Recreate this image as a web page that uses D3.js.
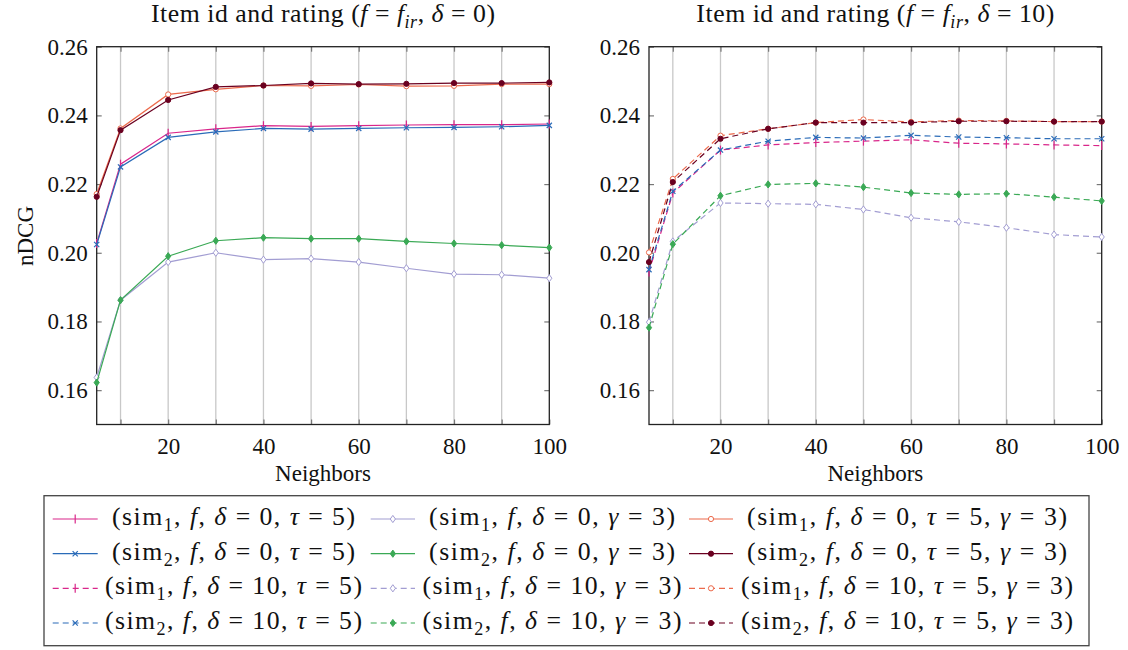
<!DOCTYPE html>
<html><head><meta charset="utf-8">
<script src="https://cdn.jsdelivr.net/npm/d3@7"></script>
<style>
body{margin:0;background:#fff}
text{fill:#111;white-space:pre}
</style>
</head><body>
<svg id="c" width="1128" height="650"></svg>
<script>
// ---------- data ----------
const neighbors = [5,10,20,30,40,50,60,70,80,90,100];
const xTickLabels = [20,40,60,80,100];
const xGrid = [10,20,30,40,50,60,70,80,90];
const yTicks = [0.16,0.18,0.20,0.22,0.24,0.26];

// delta = 0 (left panel)
const sim1_d0_tau5    = [0.2027,0.2258,0.2348,0.2361,0.2370,0.2368,0.2370,0.2372,0.2373,0.2373,0.2375];
const sim2_d0_tau5    = [0.2024,0.2250,0.2336,0.2352,0.2362,0.2360,0.2362,0.2364,0.2365,0.2367,0.2371];
const sim1_d0_g3      = [0.1637,0.1862,0.1973,0.2000,0.1980,0.1983,0.1973,0.1955,0.1938,0.1936,0.1926];
const sim2_d0_g3      = [0.1622,0.1862,0.1990,0.2035,0.2044,0.2041,0.2041,0.2033,0.2027,0.2022,0.2015];
const sim1_d0_tau5_g3 = [0.2171,0.2362,0.2461,0.2476,0.2487,0.2486,0.2490,0.2485,0.2486,0.2491,0.2491];
const sim2_d0_tau5_g3 = [0.2163,0.2357,0.2445,0.2483,0.2487,0.2493,0.2491,0.2492,0.2494,0.2494,0.2496];

// delta = 10 (right panel)
const sim1_d10_tau5    = [0.1944,0.2174,0.2299,0.2314,0.2321,0.2325,0.2329,0.2319,0.2317,0.2314,0.2312];
const sim2_d10_tau5    = [0.1951,0.2179,0.2299,0.2325,0.2336,0.2334,0.2342,0.2337,0.2335,0.2332,0.2332];
const sim1_d10_g3      = [0.1798,0.2033,0.2145,0.2143,0.2141,0.2126,0.2102,0.2090,0.2073,0.2053,0.2046];
const sim2_d10_g3      = [0.1782,0.2025,0.2166,0.2199,0.2202,0.2191,0.2174,0.2170,0.2172,0.2162,0.2151];
const sim1_d10_tau5_g3 = [0.2001,0.2215,0.2341,0.2361,0.2379,0.2388,0.2381,0.2385,0.2384,0.2382,0.2382];
const sim2_d10_tau5_g3 = [0.1973,0.2206,0.2332,0.2361,0.2379,0.2379,0.2379,0.2383,0.2383,0.2382,0.2382];

const leftSeries  = [sim1_d0_tau5, sim2_d0_tau5, sim1_d0_g3, sim2_d0_g3, sim1_d0_tau5_g3, sim2_d0_tau5_g3];
const rightSeries = [sim1_d10_tau5, sim2_d10_tau5, sim1_d10_g3, sim2_d10_g3, sim1_d10_tau5_g3, sim2_d10_tau5_g3];
const seriesSim   = [1,2,1,2,1,2];
const seriesTau   = [true,true,false,false,true,true];
const seriesGamma = [false,false,true,true,true,true];

// ---------- styles ----------
const colors  = ["#d9268a","#2a6bb8","#a29dd2","#3aa955","#ec6a4c","#6a0020"];
const markers = ["bar","x","odiamond","fdiamond","ocircle","fcircle"];

// pick an installed serif font
function hasFont(name){
  const c = document.createElement("canvas").getContext("2d");
  const s = "abcdefghijklmnopqrstuvwxyz0123456789";
  c.font = "40px monospace"; const w0 = c.measureText(s).width;
  c.font = `40px "${name}", monospace`; const w1 = c.measureText(s).width;
  return Math.abs(w1-w0) > 0.5;
}
const candidates = ["Liberation Serif","Tinos","Times New Roman","Nimbus Roman","Noto Serif","DejaVu Serif"];
const SERIF = `"${candidates.find(hasFont) || "DejaVu Serif"}", serif`;

const svg = d3.select("#c");
const FS = 23;

const yTop = 46.7, yBot = 424.5;
const panels = [
  {x0:96.7, x1:549.3, delta:0, data:leftSeries, dashed:false, titleW:344},
  {x0:649.0, x1:1101.7, delta:10, data:rightSeries, dashed:true, titleW:358}
];

function rich(textSel, parts, fs){
  let shift = 0;
  textSel.attr("font-family", SERIF);
  parts.forEach(p=>{
    const [str, st] = p;
    const t = textSel.append("tspan").text(str);
    const isSub = st.startsWith("s");
    const target = isSub ? Math.round(fs*0.22) : 0;
    if (target !== shift){ t.attr("dy", target - shift); shift = target; }
    t.attr("font-size", isSub ? fs*0.7 : fs);
    if (st.includes("i")) t.attr("font-style","italic");
  });
}
function richFit(textSel, parts, w){
  rich(textSel, parts, FS);
  const nat = textSel.node().getComputedTextLength();
  const k = Math.min(Math.max(w/nat, 1), 1.12);
  if (k > 1.001){ textSel.selectAll("tspan").remove(); rich(textSel, parts, FS*k); }
  textSel.attr("textLength", w).attr("lengthAdjust","spacing");
}

function drawMarker(g, type, cx, cy, color){
  if (type==="bar"){
    g.append("line").attr("x1",cx).attr("x2",cx).attr("y1",cy-4.5).attr("y2",cy+4.5)
      .attr("stroke",color).attr("stroke-width",1.2);
  } else if (type==="x"){
    const s=2.6;
    g.append("path").attr("d",`M${cx-s},${cy-s}L${cx+s},${cy+s}M${cx-s},${cy+s}L${cx+s},${cy-s}`)
      .attr("stroke",color).attr("stroke-width",1.2).attr("fill","none");
  } else if (type==="odiamond"||type==="fdiamond"){
    const w=2.6,h=3.6;
    g.append("path").attr("d",`M${cx},${cy-h}L${cx+w},${cy}L${cx},${cy+h}L${cx-w},${cy}Z`)
      .attr("stroke",color).attr("stroke-width",1).attr("fill",type==="fdiamond"?color:"#fff");
  } else {
    g.append("circle").attr("cx",cx).attr("cy",cy).attr("r",2.6)
      .attr("stroke",color).attr("stroke-width",1).attr("fill",type==="fcircle"?color:"#fff");
  }
}

panels.forEach((P)=>{
  const x = d3.scaleLinear().domain([5,100]).range([P.x0,P.x1]);
  const y = d3.scaleLinear().domain([0.15,0.26]).range([yBot,yTop]);
  const g = svg.append("g");

  g.selectAll(".grid").data(xGrid).enter().append("line")
    .attr("x1",d=>x(d)).attr("x2",d=>x(d)).attr("y1",yTop).attr("y2",yBot)
    .attr("stroke","#c8c8c8").attr("stroke-width",1.3);

  const xb = g.append("g").attr("transform",`translate(0,${yBot})`)
    .call(d3.axisBottom(x).tickValues(xGrid.concat([100])).tickSize(-5).tickPadding(13)
      .tickFormat(d=> xTickLabels.includes(d) ? d : ""));
  const xt = g.append("g").attr("transform",`translate(0,${yTop})`)
    .call(d3.axisTop(x).tickValues(xGrid).tickSize(-5).tickFormat(""));
  const yl = g.append("g").attr("transform",`translate(${P.x0},0)`)
    .call(d3.axisLeft(y).tickValues(yTicks).tickSize(-5).tickPadding(9).tickFormat(d3.format(".2f")));
  const yr = g.append("g").attr("transform",`translate(${P.x1},0)`)
    .call(d3.axisRight(y).tickValues(yTicks).tickSize(-5).tickFormat(""));
  [xb,xt,yl,yr].forEach(a=>{
    a.attr("font-family", SERIF).attr("font-size", FS);
    a.select(".domain").remove();
    a.selectAll(".tick line").attr("stroke","#777").attr("stroke-width",1.2);
    a.selectAll(".tick text").attr("font-family", SERIF).attr("font-size",FS).attr("fill","#111");
  });
  xb.selectAll(".tick text").attr("dy","0.71em");

  g.append("rect").attr("x",P.x0).attr("y",yTop).attr("width",P.x1-P.x0).attr("height",yBot-yTop)
    .attr("fill","none").attr("stroke","#222").attr("stroke-width",1.3);

  const line = d3.line().x((d,i)=>x(neighbors[i])).y(d=>y(d));
  P.data.forEach((vals,si)=>{
    const sg = g.append("g");
    sg.append("path").attr("d",line(vals)).attr("fill","none").attr("stroke",colors[si])
      .attr("stroke-width",1.2).attr("stroke-dasharray",P.dashed?"6,4":null);
    vals.forEach((v,i)=>drawMarker(sg, markers[si], x(neighbors[i]), y(v), colors[si]));
  });

  const cx = (P.x0+P.x1)/2;
  const tt = g.append("text").attr("x",cx).attr("y",22).attr("text-anchor","middle");
  richFit(tt, [["Item id and rating (","r"],["f","i"],[" = ","r"],["f","i"],["ir","si"],[", ","r"],["δ","i"],[" = "+P.delta+")","r"]], P.titleW);

  g.append("text").attr("x",cx).attr("y",481).attr("text-anchor","middle")
    .attr("font-family",SERIF).attr("font-size",FS).text("Neighbors");
});

svg.append("text").attr("transform","translate(33,236) rotate(-90)").attr("text-anchor","middle")
  .attr("font-family",SERIF).attr("font-size",FS).text("nDCG");

// ---------- legend ----------
const L = svg.append("g");
L.append("rect").attr("x",44).attr("y",495.7).attr("width",1045).attr("height",150)
  .attr("fill","#fff").attr("stroke","#444").attr("stroke-width",1.3);
const colSample = [[52.7,97.7],[370.7,415],[689,733]];
const colText = [233.5,552,907];
const rowY = [519,553.7,588.3,623];
const legendTextW = [[243,246,320],[243,246,320],[257,259,332],[257,259,332]];
const legendDeltas = [0,0,10,10];
const legendSims = [1,2,1,2];
const colSeriesPairs = [[0,1],[2,3],[4,5]];
rowY.forEach((ry,r)=>{
  colSample.forEach((cs,c)=>{
    const si = colSeriesPairs[c][legendSims[r]-1];
    const col = colors[si];
    L.append("line").attr("x1",cs[0]).attr("x2",cs[1]).attr("y1",ry).attr("y2",ry)
      .attr("stroke",col).attr("stroke-width",1.2).attr("stroke-dasharray",legendDeltas[r]===10?"6,4":null);
    drawMarker(L, markers[si], (cs[0]+cs[1])/2, ry, col);
    const parts = [["(sim","r"],[String(seriesSim[si]),"s"],[", ","r"],["f","i"],[", ","r"],["δ","i"],[" = "+legendDeltas[r],"r"]];
    if (seriesTau[si]) parts.push([", ","r"],["τ","i"],[" = 5","r"]);
    if (seriesGamma[si]) parts.push([", ","r"],["γ","i"],[" = 3","r"]);
    parts.push([")","r"]);
    const t = L.append("text").attr("x",colText[c]).attr("y",ry+6).attr("text-anchor","middle");
    richFit(t, parts, legendTextW[r][c]);
  });
});
</script>
</body></html>
